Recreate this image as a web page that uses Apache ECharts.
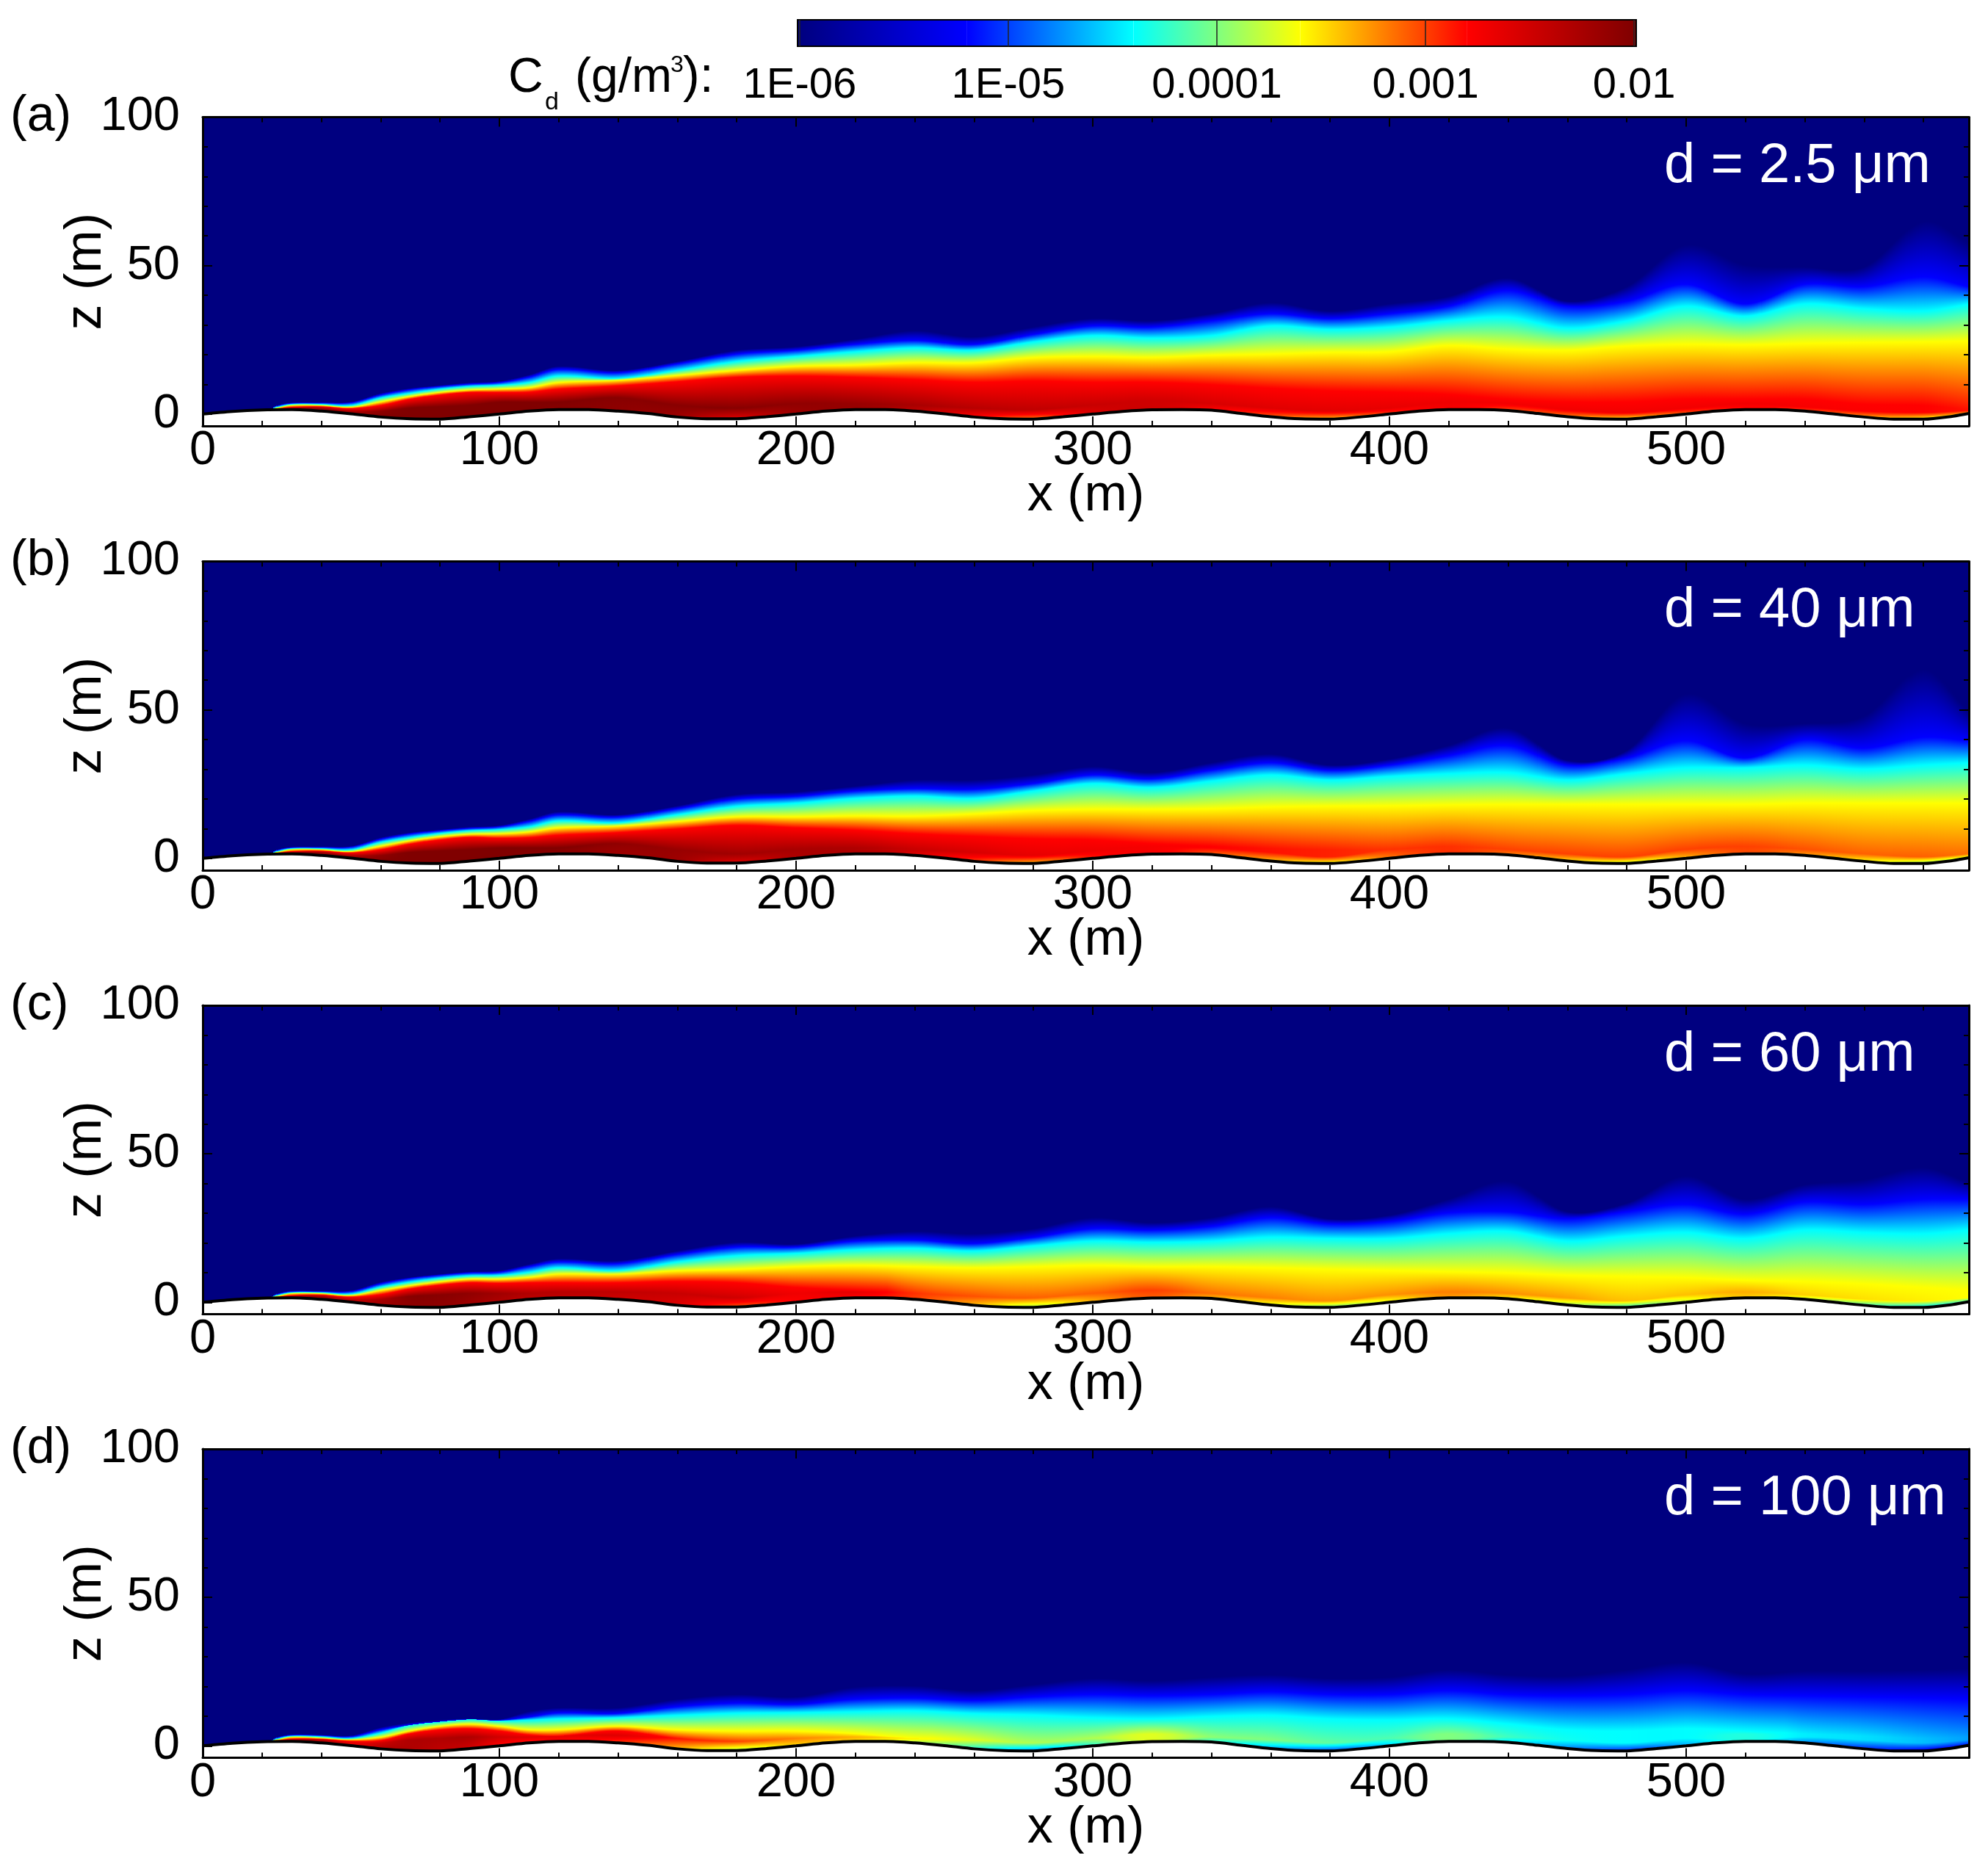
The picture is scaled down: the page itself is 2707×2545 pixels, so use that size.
<!DOCTYPE html>
<html>
<head>
<meta charset="utf-8">
<title>Dust concentration</title>
<script src="https://cdn.jsdelivr.net/npm/echarts@6/dist/echarts.min.js"></script>
<style>
    html, body { margin: 0; padding: 0; background: #fff; }
    #chart { width: 2707px; height: 2545px; }
</style>
</head>
<body>
<div id="chart"></div>
<script>
// Heights (m) where each panel's field passes the colours of the
// colour bar, plus the peak concentration and the value at the ground (log10 of g/m3).
const stationX = [23,25,30,40,50,60,70,80,90,100,110,120, 140,160,180,200,220,240,260,280,300,320,
    340,360,380,400,420,440,460,480,500,520, 540,560,580,595.3];

const navyA = [1.5,2.9,3.9,4,4.1,7,8.7,9.7,10.6,11.1,13.2,16.1, 14.7,17.7,21.5,22.7,25.2,28.1,26,29.3,32.2,31.4, 33.8,37.5,34.7,37.1,39.6,45.8,38,42.9,56.9,50.3, 49.5,49.5,64.8,57.8];
const blueA = [1.5,2.7,3.6,3.7,3.8,6.4,8.2,9.3,10.1,10.6,12.4,15, 13.9,16.9,20.2,21.5,23.5,24.8,23.5,26.8,29.7,29.3, 31.4,33.8,32.2,33.8,36.3,41.6,36.3,38,43.7,37.1, 43.7,42.9,46.2,42.9];
const cyanA = [1.5,2.3,3.3,3.3,2.9,5.4,7,8.4,9.3,9.7,10.6,12.8, 12,14.7,17.7,19.4,21,22.3,21.5,24.3,26.4,25.6, 26.4,29.7,28.5,29.3,31.4,32.6,28.9,31.4,36.3,33, 37.1,35.5,34.7,37];
const yellowA = [1.5,2,2.9,2.9,2.3,4.1,5.9,7.3,8.1,8.4,8.9,10.6, 11.4,13,14.7,16.1,16.5,17.3,17.3,19,19.4,19.1, 19.8,20.2,20.8,21,23.1,21.9,21.5,22.9,23.5,23.3, 23.8,24.1,24.3,24.6];
const redA = [1.5,1.7,2.3,2.5,1.9,2.9,5,6.4,7.3,7.3,7.4,8.4, 9.5,10.9,12.4,12.8,12.4,11.6,10.7,11.1,10.7,10.7, 9.9,8.7,7.8,7.4,6.6,5,4.1,4.1,5,5, 5,3.3,2.9,1.5];
const peakZA = [1.5,1.6,2,2,1,1,2,2.5,3,4,4,4, 5.5,3,2,3.5,3.5,3,2,1.5,3,4.5, 3.5,2,1,2,4,3.5,1.5,0.5,2,3.5, 2.5,1,0.5,1.2];
const peakCA = [-3,-2.7,-2.3,-2.2,-2.3,-2.1,-2,-2,-2,-2,-2,-2, -2.05,-2.05,-2.05,-2.1,-2.15,-2.25,-2.35,-2.4,-2.45,-2.5, -2.55,-2.6,-2.62,-2.65,-2.7,-2.72,-2.72,-2.72,-2.72,-2.72, -2.75,-2.78,-2.8,-2.85];
const wallCA = [-3,-2.8,-2.3,-2.1,-2.1,-2,-2,-2,-2,-2,-2,-2.05, -2.1,-2.2,-2.6,-2.2,-2.15,-2.4,-2.8,-3.2,-2.6,-2.5, -2.8,-3.1,-3.4,-3,-2.75,-3,-3.2,-3.55,-3.1,-2.85, -3,-3.3,-3.65,-3.4];

const navyB = [1.5,2.9,3.9,4,4.1,7,8.7,9.7,10.6,11.1,13.2,15.7, 14.7,17.7,21.5,22.4,24.3,26.4,26.4,28.1,30.9,28.9, 32.2,35.1,31.4,33.4,38,43.9,33,36.3,55.3,45.4, 45.4,47.9,63.5,49.5];
const blueB = [1.5,2.7,3.6,3.7,3.8,6.4,8.2,9.3,10.1,10.6,12.4,14.6, 13.9,16.7,20,20.9,22.7,23.5,23.3,25.2,28.1,26.8, 29.7,32.2,29.7,31.4,34.6,38,31.4,33.8,39.6,33.8, 40,37.1,40.8,39.6];
const cyanB = [1.5,2.3,3.3,3.3,2.9,5.4,7,8.4,9.3,9.7,10.6,12.6, 12,14.7,17.5,18.6,20.2,21,20.2,22.7,25.2,23.9, 26,28.1,26.4,27.6,28.5,28.9,26.4,28.5,30.5,30.5, 31.4,30.1,31.4,32.2];
const yellowB = [1.5,2,2.9,2.9,2.3,4.1,5.9,7.3,8.1,8.3,8.9,10.3, 10.9,12.4,14,14,14.3,14.2,15,16.1,16.5,16.5, 16.7,17.3,17.6,17.7,18,18.2,18.2,18.2,18.2,18.2, 18.6,18.6,18.6,18.6];
const redB = [1.5,1.7,2.3,2.5,1.9,2.9,4.8,6.2,7.1,6.8,7,7.8, 8.7,9.9,11.1,10.3,9.5,8.3,7.4,6.6,6.2,5, 4.1,3.3,2.9,3,4,3,1.5,0.5,3,4, 3,1.5,0.5,1.5];
const peakZB = [1.5,1.6,2,2,1,1,2,2.5,3,3.5,3.5,3.5, 5,3,1.5,3,3.5,3,2,1,2.5,4, 3.5,2,0.5,3,4,3,1.5,0.5,3,4, 3,1.5,0.5,1.5];
const peakCB = [-3,-2.7,-2.3,-2.2,-2.3,-2.1,-2,-2,-2,-2,-2,-2, -2.1,-2.15,-2.2,-2.25,-2.3,-2.45,-2.55,-2.65,-2.7,-2.75, -2.8,-2.85,-2.9,-2.95,-2.95,-3,-3,-3,-3,-3, -3.05,-3.1,-3.1,-3.15];
const wallCB = [-3,-2.8,-2.3,-2.1,-2.1,-2,-2,-2,-2,-2,-2.05,-2.1, -2.2,-2.2,-2.6,-2.3,-2.3,-2.6,-3,-3.4,-2.9,-2.75, -3.1,-3.4,-3.7,-3.2,-2.95,-3.2,-3.5,-3.85,-3.4,-3.05, -3.3,-3.6,-4,-3.8];

const navyC = [1.5,2.9,3.9,3.9,4,6.8,8.4,9.5,10.3,10.7,12.8,14.7, 14,17.3,20.2,19.6,22.3,23.9,23.1,24.8,28.5,26.8, 28.5,32.2,28.1,29.3,34.7,40.8,30.5,33.4,42.5,34.7, 39.6,41.3,45.4,40.4];
const blueC = [1.5,2.7,3.6,3.6,3.6,6.2,8,9.1,9.9,10.1,12,13.6, 13,16.1,18.6,18.6,20.6,21,19.8,21.9,24.8,24.3, 25.6,28.5,26.4,27.2,30.1,30.5,28.1,30.5,33,29.7, 33.8,33,34.7,34.7];
const cyanC = [1.5,2.3,3.3,3.3,2.8,5.1,6.8,8.1,8.9,9.1,10.1,11.6, 10.7,13.6,15.7,16.5,17.7,18.2,17.3,19,20.6,20.2, 20.6,21.9,21.5,21.5,23.1,23.9,20.6,22.3,23.5,21.5, 24.3,23.5,23.1,24.3];
const yellowC = [1.5,2,2.9,2.9,2.3,4,5.6,6.9,7.8,7.8,8.4,9.5, 9.5,10.6,11.1,12,12.4,12,11.6,12,12.4,12, 12,11.6,11.1,10.7,10.3,9.9,9.1,8.7,8.3,7.4, 7,6.2,5,4.1];
const redC = [1.5,1.7,2.3,2.5,1.8,2.6,4.5,5.8,6.6,6.4,6.6,6.6, 6.6,7,6.6,5,4.1,3.1,2,1.5,3,4, 3,1.5,0.5,2.5,3.5,3,1.5,0.5,2.5,3.5, 2.5,1,0.5,1.5];
const peakZC = [1.5,1.6,2,2,1,1,2,2.5,3,3,3,3.5, 3.5,3,1.5,3,3.5,3,2,1.5,3,4, 3,1.5,0.5,2.5,3.5,3,1.5,0.5,2.5,3.5, 2.5,1,0.5,1.5];
const peakCC = [-3,-2.7,-2.3,-2.2,-2.4,-2.25,-2.05,-2.05,-2.1,-2.2,-2.3,-2.35, -2.4,-2.45,-2.5,-2.7,-2.65,-2.95,-3.05,-3.1,-3.1,-3, -3.15,-3.2,-3.25,-3.25,-3.2,-3.25,-3.3,-3.4,-3.4,-3.35, -3.45,-3.5,-3.55,-3.6];
const wallCC = [-3,-2.8,-2.4,-2.2,-2.4,-2.2,-2.1,-2.1,-2.2,-2.3,-2.4,-2.4, -2.5,-2.6,-3.1,-2.8,-2.8,-3,-3.4,-3.9,-3.4,-3.1, -3.4,-3.7,-4.1,-3.7,-3.3,-3.6,-3.9,-4.3,-3.8,-3.45, -3.8,-4.2,-4.5,-4.3];

const navyD = [1.5,2.9,3.9,3.7,3.5,6.2,7.8,8.7,9.2,8.9,11.6,12.8, 12.8,15.7,17.3,16.5,19.8,20.2,18.6,20.6,22.7,21.9, 23.1,23.9,22.7,23.1,25.6,23.9,23.5,25.6,28.1,24.3, 25.2,25.2,25.6,26];
const blueD = [1.5,2.7,3.6,3.5,3.1,5.4,7,8.1,8.9,8.6,9.7,11.1, 10.9,13.2,14.4,14,15.7,16.1,15.3,16.5,17.3,16.9, 17.3,18.2,17.3,17.3,18.6,17.3,16.9,17.3,18.6,17.3, 16.9,16.5,16.1,15.7];
const cyanD = [1.5,2.3,3.3,3.1,2.5,4.3,7,8.1,8.9,8.4,8.7,9.1, 9.5,10.3,11,11.2,11.5,11.8,10.9,10.4,9.5,9.1, 9.9,10.3,9.1,8.7,9.1,7.4,5.4,5,5.8,5, 4.1,3.3,2.5,2.9];
const yellowD = [1.5,2,2.9,2.6,2.1,2.9,5,6.6,7.3,6.6,5.4,5.4, 6.6,5.4,5,5,4.1,2.5,2,1,2.5,4, 3,2,1,2.5,4,3,2,1,2.5,4, 3,2,1,2];
const redD = [1.5,1.7,2.3,2.3,1.6,1.8,4.1,5.4,5.8,5,3.7,3.3, 5,2.5,1.5,2.5,3,2.5,2,1,2.5,4, 3,2,1,2.5,4,3,2,1,2.5,4, 3,2,1,2];
const peakZD = [1.5,1.6,2,2,1,1,2,2.5,3,3,3,3.5, 3.5,2.5,1.5,2.5,3,2.5,2,1,2.5,2.2, 3,2,1,2.5,2.2,3,2,1,2.5,2.2, 3,2,1,2];
const peakCD = [-3,-2.7,-2.3,-2.3,-2.6,-2.5,-2.3,-2.3,-2.3,-2.5,-2.6,-2.65, -2.6,-2.85,-3,-3.2,-3.35,-3.55,-3.7,-3.85,-3.85,-3.7, -3.95,-4,-4.1,-4.15,-4,-4.2,-4.35,-4.4,-4.4,-4.3, -4.45,-4.5,-4.6,-4.7];
const wallCD = [-3,-2.8,-2.5,-2.4,-2.8,-2.3,-2.3,-2.4,-2.5,-2.8,-2.9,-2.8, -3,-3.4,-3.9,-3.5,-3.5,-3.9,-4.3,-4.8,-4.3,-3.8, -4.3,-4.7,-5,-4.6,-4.1,-4.5,-4.8,-5.1,-4.7,-4.35, -4.8,-5.1,-5.3,-5.2];

// the hills
const terrainX = [0,10,20,30,40,50,60,70,80,90,100,110,120,130,140,150,160,170,180,190,200,210,220,230,240,250,260,270,280,290,300,
    310,320,330,340,350,360,370,380,390,400,410,420,430,440,450,460,470,480,490,500,510,520,530,540,550,560,570,580,590,595.3];
const terrainZ = [0,0.9,1.4,1.5,1,0.1,-1,-1.6,-1.7,-0.9,0,1,1.5,1.5,1,0.2,-1,-1.6,-1.6,-0.9,0,1,1.5,1.5,1,0.1,-1,-1.6,-1.7,-0.9,0,
    0.9,1.45,1.5,1.3,0.2,-0.9,-1.6,-1.7,-1,0,1,1.5,1.5,1.2,0.2,-0.9,-1.6,-1.7,-0.9,0,1,1.5,1.5,1,0,-1,-1.7,-1.7,-0.7,0.2];

const panelLetters = ["(a)", "(b)", "(c)", "(d)"];
const sizeLabels = ["d = 2.5 μm", "d = 40 μm", "d = 60 μm", "d = 100 μm"];
const xMajorTicks = [0,100,200,300,400,500];
const xMinorTicks = [20,40,60,80,120,140,160,180,220,240,260,280,320,340,360,380,420,440,460,480,520,540,560,580];
const zMajorTicks = [0,50,100];
const zMinorTicks = [10,20,30,40,60,70,80,90];
const colorbarValues = [-6,-5,-4,-3,-2];
const colorbarLabels = ["1E-06","1E-05","0.0001","0.001","0.01"];
const colormapLevels = [-6,-5.2,-4.4,-3.6,-2.8,-2];
const colormapColors = [[0,0,128],[0,0,255],[0,255,255],[255,255,0],[255,0,0],[128,0,0]];

const panels = [
    { navy: navyA, blue: blueA, cyan: cyanA, yellow: yellowA, red: redA, peakZ: peakZA, peakC: peakCA, wallC: wallCA },
    { navy: navyB, blue: blueB, cyan: cyanB, yellow: yellowB, red: redB, peakZ: peakZB, peakC: peakCB, wallC: wallCB },
    { navy: navyC, blue: blueC, cyan: cyanC, yellow: yellowC, red: redC, peakZ: peakZC, peakC: peakCC, wallC: wallCC },
    { navy: navyD, blue: blueD, cyan: cyanD, yellow: yellowD, red: redD, peakZ: peakZD, peakC: peakCD, wallC: wallCD }
];

const FONT = "Liberation Sans";
const gridLeft = 276, gridWidth = 2405, gridHeight = 420.5;
const gridTops = [159.5, 764.5, 1369, 1973];
const xMax = 595.3, zMin = -4, zMax = 100;
const columnStep = 0.5;  // m, width of one shaded column

function jetColor(c) {
    let i = 0;
    while (i < colormapLevels.length - 2 && c > colormapLevels[i + 1]) i++;
    const t = Math.max(0, Math.min(1, (c - colormapLevels[i]) / (colormapLevels[i + 1] - colormapLevels[i])));
    const a = colormapColors[i], b = colormapColors[i + 1];
    return "rgb(" + [0, 1, 2].map(k => Math.round(a[k] + (b[k] - a[k]) * t)).join(",") + ")";
}

// smooth reading between two neighbouring stations, only used for the shading
function smoothAt(xs, ys, i, x) {
    const h = xs[i + 1] - xs[i];
    const t = (x - xs[i]) / h;
    const p = Math.max(i - 1, 0), n = Math.min(i + 2, xs.length - 1);
    const m0 = (ys[i + 1] - ys[p]) / (xs[i + 1] - xs[p]) * h;
    const m1 = (ys[n] - ys[i]) / (xs[n] - xs[i]) * h;
    const t2 = t * t, t3 = t2 * t;
    return (2 * t3 - 3 * t2 + 1) * ys[i] + (t3 - 2 * t2 + t) * m0 + (-2 * t3 + 3 * t2) * ys[i + 1] + (t3 - t2) * m1;
}

function groundAt(x) {
    let i = 0;
    while (i < terrainX.length - 2 && x > terrainX[i + 1]) i++;
    return smoothAt(terrainX, terrainZ, i, x);
}

// list of [z, log c] from the top of the plume down to the ground
function columnProfile(p, i, x) {
    const ground = groundAt(x);
    const peakC = smoothAt(stationX, p.peakC, i, x);
    const levels = [
        [smoothAt(stationX, p.navy, i, x), -6],
        [smoothAt(stationX, p.blue, i, x), -5.2],
        [smoothAt(stationX, p.cyan, i, x), -4.4],
        [smoothAt(stationX, p.yellow, i, x), -3.6],
        [smoothAt(stationX, p.red, i, x), -2.8]
    ];
    const rows = levels.filter(r => r[1] < peakC);
    // a colour the column never reaches still holds the peak value down from its height,
    // so neighbouring columns join up
    const missed = levels.find(r => r[1] >= peakC);
    if (missed) rows.push([missed[0], peakC]);
    rows.push([smoothAt(stationX, p.peakZ, i, x), peakC]);
    rows.push([ground, smoothAt(stationX, p.wallC, i, x)]);

    const out = [];
    let prev = Infinity;
    rows.forEach((r, k) => {
        const z = Math.max(Math.min(r[0], prev), ground);
        prev = z;
        if (k > 0) {
            // keep the colour map's corners inside a long stretch
            const last = rows[k - 1][1], lastZ = out[out.length - 1][0];
            colormapLevels.filter(b => b > Math.min(last, r[1]) && b < Math.max(last, r[1]))
                .sort((a, b) => (last < r[1] ? a - b : b - a))
                .forEach(b => out.push([lastZ + (z - lastZ) * (b - last) / (r[1] - last), b]));
        }
        out.push([z, r[1]]);
    });
    out.push([ground - 0.5, out[out.length - 1][1]]);
    return out;
}

function fieldRenderer(p) {
    return function (params, api) {
        const i = params.dataIndex;
        const x0 = stationX[i], x1 = stationX[i + 1];
        const children = [];
        for (let x = x0; x < x1; x += columnStep) {
            const xEnd = Math.min(x + columnStep, x1);
            const prof = columnProfile(p, i, (x + xEnd) / 2);
            const top = prof[0][0], bottom = prof[prof.length - 1][0];
            const a = api.coord([x, top]), b = api.coord([xEnd, bottom]);
            const px0 = Math.floor(a[0]), px1 = Math.ceil(b[0]);
            const stops = prof.map(r => ({ offset: Math.max(0, Math.min(1, (top - r[0]) / (top - bottom))), color: jetColor(r[1]) }));
            children.push({
                type: "rect",
                shape: { x: px0, y: a[1], width: px1 - px0, height: b[1] - a[1] },
                style: { fill: new echarts.graphic.LinearGradient(0, 0, 0, 1, stops) }
            });
        }
        return { type: "group", children: children };
    };
}

function colorbarRenderer(params, api) {
    const i = params.dataIndex;
    const a = api.coord([colormapLevels[i], 1]);
    const b = api.coord([colormapLevels[i + 1], 0]);
    const stops = [{ offset: 0, color: jetColor(colormapLevels[i]) }, { offset: 1, color: jetColor(colormapLevels[i + 1]) }];
    // the first and last pieces run on to the edge of the bar, the series clips them
    const x0 = i === 0 ? a[0] - 20 : a[0];
    const x1 = i === colormapLevels.length - 2 ? b[0] + 20 : b[0];
    return {
        type: "group",
        children: [
            { type: "rect", shape: { x: x0, y: a[1], width: a[0] - x0, height: b[1] - a[1] }, style: { fill: jetColor(colormapLevels[i]) } },
            { type: "rect", shape: { x: b[0], y: a[1], width: x1 - b[0], height: b[1] - a[1] }, style: { fill: jetColor(colormapLevels[i + 1]) } },
            { type: "rect", shape: { x: a[0], y: a[1], width: b[0] - a[0], height: b[1] - a[1] }, style: { fill: new echarts.graphic.LinearGradient(0, 0, 1, 0, stops) } }
        ]
    };
}

const grids = [], xAxes = [], yAxes = [], series = [], graphics = [];

function tickAxis(values, length, position) {
    return {
        type: "value", position: position, z: 10,
        axisLine: { show: false, onZero: false },
        axisLabel: { show: false },
        splitLine: { show: false },
        axisTick: { show: true, inside: true, length: length, customValues: values, lineStyle: { color: "#000", width: 2 } }
    };
}

panels.forEach((p, n) => {
    const gridIndex = grids.length;
    const rect = { left: gridLeft, width: gridWidth, top: gridTops[n], height: gridHeight };
    grids.push(Object.assign({ show: true, backgroundColor: "#000080", borderWidth: 0 }, rect));
    grids.push(Object.assign({}, rect));  // second grid only carries the minor ticks

    const xRange = { min: 0, max: xMax }, zRange = { min: zMin, max: zMax };
    const line = { show: true, onZero: false, lineStyle: { color: "#000", width: 3 } };

    const xIndex = xAxes.length, yIndex = yAxes.length;
    xAxes.push(Object.assign(tickAxis(xMajorTicks, 13, "bottom"), xRange, {
        gridIndex: gridIndex, axisLine: line, name: "x (m)", nameLocation: "middle", nameGap: 61, nameMoveOverlap: false,
        nameTextStyle: { fontFamily: FONT, fontSize: 70, color: "#000" },
        axisLabel: { show: true, customValues: xMajorTicks, margin: 2, fontFamily: FONT, fontSize: 65, color: "#000" }
    }));
    xAxes.push(Object.assign(tickAxis(xMajorTicks, 13, "top"), xRange, { gridIndex: gridIndex, axisLine: line }));
    xAxes.push(Object.assign(tickAxis(xMinorTicks, 7, "bottom"), xRange, { gridIndex: gridIndex + 1 }));
    xAxes.push(Object.assign(tickAxis(xMinorTicks, 7, "top"), xRange, { gridIndex: gridIndex + 1 }));

    yAxes.push(Object.assign(tickAxis(zMajorTicks, 13, "left"), zRange, {
        gridIndex: gridIndex, axisLine: line, name: "z (m)", nameLocation: "middle", nameGap: 123, nameMoveOverlap: false,
        nameTextStyle: { fontFamily: FONT, fontSize: 70, color: "#000" },
        axisLabel: { show: true, customValues: zMajorTicks, margin: 31, padding: [5, 0, 0, 0], fontFamily: FONT, fontSize: 65, color: "#000" }
    }));
    yAxes.push(Object.assign(tickAxis(zMajorTicks, 13, "right"), zRange, { gridIndex: gridIndex, axisLine: line }));
    yAxes.push(Object.assign(tickAxis(zMinorTicks, 7, "left"), zRange, { gridIndex: gridIndex + 1 }));
    yAxes.push(Object.assign(tickAxis(zMinorTicks, 7, "right"), zRange, { gridIndex: gridIndex + 1 }));

    series.push({
        type: "custom", xAxisIndex: xIndex, yAxisIndex: yIndex, z: 2, silent: true, clip: true,
        renderItem: fieldRenderer(p),
        data: stationX.slice(0, -1).map((x, i) => [x, stationX[i + 1]])
    });
    series.push({
        type: "line", xAxisIndex: xIndex, yAxisIndex: yIndex, z: 4, silent: true, smooth: 0.3,
        showSymbol: false, symbol: "none",
        lineStyle: { color: "#000", width: 4 },
        areaStyle: { color: "#fff", opacity: 1, origin: "start" },
        data: terrainX.map((x, i) => [x, terrainZ[i]])
    });

    graphics.push({
        type: "text", x: 14, y: gridTops[n],
        style: { text: panelLetters[n], font: "68px '" + FONT + "'", fill: "#000", textVerticalAlign: "middle" }
    });
    graphics.push({
        type: "text", z: 20, x: 2266, y: gridTops[n] + 68,
        style: { text: sizeLabels[n], font: "76px '" + FONT + "'", fill: "#fff", textVerticalAlign: "middle" }
    });
});

// colour bar
const barGrid = grids.length;
grids.push({ left: 1086, width: 1142, top: 27, height: 36, show: true, z: 5, backgroundColor: "transparent", borderColor: "#000", borderWidth: 2 });
const barX = xAxes.length, barY = yAxes.length;
xAxes.push({
    type: "value", gridIndex: barGrid, min: -6.01, max: -1.99, position: "bottom", z: 10,
    axisLine: { show: false, onZero: false }, splitLine: { show: false },
    axisTick: { show: true, inside: true, length: 36, customValues: colorbarValues, lineStyle: { color: "#222", width: 1.5 } },
    axisLabel: {
        show: true, customValues: colorbarValues, margin: 25, fontFamily: FONT, fontSize: 58, color: "#000",
        formatter: v => colorbarLabels[colorbarValues.indexOf(Math.round(v))]
    }
});
yAxes.push({ type: "value", gridIndex: barGrid, min: 0, max: 1, show: false });
series.push({
    type: "custom", xAxisIndex: barX, yAxisIndex: barY, z: 2, silent: true, clip: true,
    renderItem: colorbarRenderer,
    data: colormapLevels.slice(0, -1).map((c, i) => [c, colormapLevels[i + 1]])
});

// C_d (g/m^3): label
[
    { text: "C", x: 692, y: 140, size: 66 },
    { text: "d", x: 742, y: 157, size: 34 },
    { text: "(g/m", x: 783, y: 140, size: 66 },
    { text: "3", x: 913, y: 105, size: 32 },
    { text: "):", x: 930, y: 140, size: 68 }
].forEach(t => graphics.push({
    type: "text", x: t.x, y: t.y,
    style: { text: t.text, font: t.size + "px '" + FONT + "'", fill: "#000", textVerticalAlign: "bottom" }
}));

const chart = echarts.init(document.getElementById("chart"), null, { renderer: "canvas" });
chart.setOption({
    animation: false,
    backgroundColor: "#fff",
    tooltip: { show: false },
    grid: grids,
    xAxis: xAxes,
    yAxis: yAxes,
    series: series,
    graphic: graphics
});
</script>
</body>
</html>
